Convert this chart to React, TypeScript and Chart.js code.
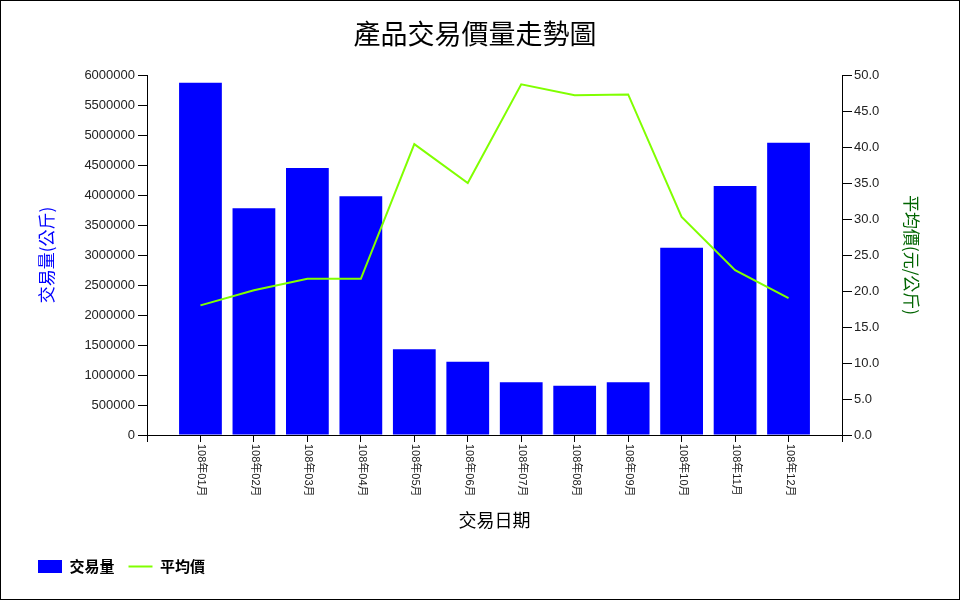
import React, { useEffect, useRef } from 'react';
import { Chart, registerables } from 'chart.js';

Chart.register(...registerables);

const TITLE = '產品交易價量走勢圖';
const X_TITLE = '交易日期';
const Y_TITLE = '交易量(公斤)';
const Y1_TITLE = '平均價(元/公斤)';
const VOLUME_LABEL = '交易量';
const PRICE_LABEL = '平均價';

const months = [
  '108年01月', '108年02月', '108年03月', '108年04月', '108年05月', '108年06月',
  '108年07月', '108年08月', '108年09月', '108年10月', '108年11月', '108年12月',
];
const volumes = [5870000, 3780000, 4450000, 3980000, 1430000, 1220000, 880000, 820000, 880000, 3120000, 4150000, 4870000];
const prices = [18.0, 20.1, 21.7, 21.7, 40.4, 35.0, 48.7, 47.2, 47.3, 30.3, 22.9, 19.0];

const volumeMax = 6000000;
const volumeStep = 500000;
const priceMax = 50;
const priceStep = 5;

const CJK = '"Noto Sans CJK TC", "Noto Sans CJK SC", sans-serif';
const LATIN = '"Liberation Sans", Arial, "Noto Sans CJK TC", sans-serif';

const xLabelPlugin = {
  id: 'xLabelsRotated',
  afterDraw(chart: any) {
    const xs = chart.scales.x;
    const ctx = chart.ctx;
    ctx.save();
    ctx.font = '11px ' + LATIN;
    ctx.fillStyle = '#222';
    ctx.textAlign = 'left';
    ctx.textBaseline = 'middle';
    months.forEach((m, i) => {
      const x = xs.getPixelForValue(i + 1);
      ctx.save();
      ctx.translate(x + 1, xs.top + 9);
      ctx.rotate(Math.PI / 2);
      ctx.fillText(m, 0, 0);
      ctx.restore();
    });
    ctx.restore();
  },
};

export default function App() {
  const ref = useRef<HTMLCanvasElement>(null);
  useEffect(() => {
    const chart = new Chart(ref.current as HTMLCanvasElement, {
      type: 'bar',
      data: {
        datasets: [
          {
            type: 'bar',
            label: VOLUME_LABEL,
            data: volumes.map((v, i) => ({ x: i + 1, y: v })),
            backgroundColor: '#0000ff',
            borderColor: '#0000ff',
            borderWidth: 0,
            yAxisID: 'y',
            order: 1,
            categoryPercentage: 1,
            barPercentage: 0.8,
            pointStyle: 'rect',
          } as any,
          {
            type: 'line',
            label: PRICE_LABEL,
            data: prices.map((v, i) => ({ x: i + 1, y: v })),
            borderColor: '#80ff00',
            backgroundColor: '#80ff00',
            borderWidth: 2,
            pointRadius: 0,
            tension: 0,
            yAxisID: 'y1',
            order: 0,
            pointStyle: 'line',
          } as any,
        ],
      },
      options: {
        animation: false,
        responsive: false,
        devicePixelRatio: 1,
        layout: { padding: { left: 23, right: 33, top: 0, bottom: 15 } },
        plugins: {
          tooltip: { enabled: false },
          title: {
            display: true,
            text: TITLE,
            color: '#000',
            font: { family: CJK, size: 27, weight: 'normal' },
            padding: { top: 16.6, bottom: 25 },
          },
          legend: {
            position: 'bottom',
            align: 'start',
            labels: {
              usePointStyle: true,
              pointStyleWidth: 24,
              boxHeight: 13,
              padding: 14,
              color: '#000',
              font: { family: CJK, size: 15, weight: 'bold' },
              sort: (a: any, b: any) => a.datasetIndex - b.datasetIndex,
            },
          },
        },
        scales: {
          x: {
            type: 'linear',
            min: 0,
            max: 13,
            offset: false,
            grid: { offset: false, drawOnChartArea: false, color: '#000', tickLength: 7 },
            border: { color: '#000' },
            ticks: {
              stepSize: 1,
              autoSkip: false,
              minRotation: 90,
              maxRotation: 90,
              color: 'rgba(0,0,0,0)',
              callback: () => '',
            },
            title: {
              display: true,
              text: X_TITLE,
              color: '#000',
              font: { family: CJK, size: 18 },
              padding: { top: 4, bottom: 13.7 },
            },
            afterFit: (s: any) => { s.height = 110; },
          },
          y: {
            type: 'linear',
            position: 'left',
            min: 0,
            max: volumeMax,
            ticks: {
              stepSize: volumeStep,
              callback: (v: any) => String(v),
              color: '#222',
              font: { family: LATIN, size: 13 },
              padding: 3,
            },
            grid: { drawOnChartArea: false, color: '#000', tickLength: 9 },
            border: { color: '#000' },
            title: {
              display: true,
              text: Y_TITLE,
              color: '#0000ff',
              font: { family: CJK, size: 17 },
              padding: { top: 12.8, bottom: 4 },
            },
            afterFit: (s: any) => { s.width = 123; },
          },
          y1: {
            type: 'linear',
            position: 'right',
            min: 0,
            max: priceMax,
            ticks: {
              stepSize: priceStep,
              callback: (v: any) => Number(v).toFixed(1),
              color: '#222',
              font: { family: LATIN, size: 13 },
              padding: 2,
            },
            grid: { drawOnChartArea: false, color: '#000', tickLength: 10 },
            border: { color: '#000' },
            title: {
              display: true,
              text: Y1_TITLE,
              color: '#006400',
              font: { family: CJK, size: 17 },
              padding: { top: 4, bottom: 4 },
            },
            afterFit: (s: any) => { s.width = 84; },
          },
        },
      } as any,
      plugins: [xLabelPlugin],
    });
    return () => chart.destroy();
  }, []);

  return (
    <div
      style={{
        position: 'fixed',
        left: 0,
        top: 0,
        width: 960,
        height: 600,
        boxSizing: 'border-box',
        border: '1px solid #000',
        background: '#fff',
      }}
    >
      <canvas ref={ref} width={958} height={598} style={{ display: 'block', width: 958, height: 598 }} />
    </div>
  );
}
